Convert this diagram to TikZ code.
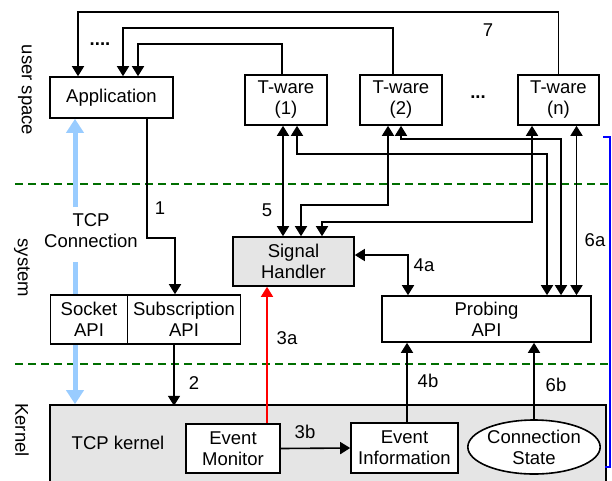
\documentclass[tikz,border=0pt]{standalone}
\usepackage{fontspec}
\setmainfont{Liberation Sans}
\usetikzlibrary{arrows.meta,shapes.geometric}
\definecolor{tcpblue}{RGB}{153,204,255}
\definecolor{dkgreen}{RGB}{0,110,0}

\begin{document}
\begin{tikzpicture}[x=1pt, y=-1pt,
        every node/.style={font=\fontsize{18.5}{21}\selectfont},
        box/.style={draw, line width=1.6pt, fill=white, align=center, inner sep=0pt},
        arr/.style={line width=1.6pt, -{Triangle[width=12pt,length=10pt]}},
        dbl/.style={line width=1.6pt, {Triangle[width=12pt,length=10pt]}-{Triangle[width=12pt,length=10pt]}},
        tcp/.style={tcpblue, line width=5pt, -{Triangle[width=17pt,length=14pt]}},
        layer/.style={dkgreen, line width=1.5pt, dash pattern=on 8pt off 5pt}]
                \clip (0,0) rectangle (612,480);
                % kernel area
                \node [box, fill=gray!20, minimum width=556pt, minimum height=85pt] (kern) at (328,447.5) {};
                \node (kerntxt) at (118,443) {TCP kernel};
                % layers
                \draw [layer] (15,184) -- (612,184);
                \draw [layer] (15,364) -- (612,364);
                \node [rotate=-90] (usr) at (25,90) {user space};
                \node [rotate=-90] (sys) at (22,268) {system};
                \node [rotate=-90] (krn) at (22,430) {Kernel};
                \draw [blue, line width=2pt] (603,137) -- (610,137) -- (610,467) -- (605,467);
                % tcp connection
                \node [align=center] (tcpc) at (91,231) {TCP\\Connection};
                \coordinate (tcptop) at (75,207);
                \coordinate (tcpbot) at (75,262);
                \node [box, minimum width=123pt, minimum height=41pt] (app) at (111.5,97.5) {Application};
                \draw [tcp] (tcptop) -- (tcptop |- app.south);
                \draw [tcp] (tcpbot) -- (tcpbot |- kern.north);
                % boxes
                \node [box, minimum width=82pt, minimum height=50pt] (tw1) at (286,100) {T-ware\\(1)};
                \node [box, minimum width=82pt, minimum height=50pt] (tw2) at (401,100) {T-ware\\(2)};
                \node [box, minimum width=81pt, minimum height=50pt] (twn) at (558.5,100) {T-ware\\(n)};
                \node (dots) at (478,97) {\textbf{...}};
                \node (dots2) at (100,44) {\textbf{....}};
                \node [box, minimum width=77pt, minimum height=49pt] (sock) at (89,319.5) {Socket\\API};
                \node [box, minimum width=113pt, minimum height=49pt] (subapi) at (184,319.5) {Subscription\\API};
                \node [box, fill=gray!20, minimum width=121pt, minimum height=49pt] (sig) at (293.5,261.5) {Signal\\Handler};
                \node [box, minimum width=209pt, minimum height=46pt] (probe) at (486.5,319) {Probing\\API};
                \node [box, minimum width=94pt, minimum height=49pt] (evmon) at (233,448.5) {Event\\Monitor};
                \node [box, minimum width=107pt, minimum height=50pt] (evinfo) at (404.5,448) {Event\\Information};
                \node [box, ellipse, minimum width=131pt, minimum height=54pt] (cstate) at (534,447) {Connection\\State};
                % feedback to application
                \draw [arr] (twn.north) -- ++(0,-62) -| ([xshift=-33.5pt]app.north);
                \draw [arr] ([xshift=-8pt]tw2.north) -- ++(0,-46) -| ([xshift=11.5pt]app.north);
                \draw [arr] ([xshift=-4pt]tw1.north) -- ++(0,-30) -| ([xshift=26.5pt]app.north);
                \node (l7) at (488,30) {7};
                % subscription
                \draw [arr] ([xshift=35.5pt]app.south) -- ++(0,119) -| ([xshift=-9pt]subapi.north);
                \node (l1) at (160,208) {1};
                \draw [arr] ([xshift=-10pt]subapi.south) -- ++(0,61);
                \node (l2) at (194,383) {2};
                % signals
                \draw [dbl] ([xshift=-3pt]tw1.south) -- ([xshift=-10.5pt]sig.north);
                \draw [dbl] ([xshift=-13pt]tw2.south) -- ++(0,79) -| ([xshift=7.5pt]sig.north);
                \draw [dbl] ([xshift=-26.5pt]twn.south) -- ++(0,96) -| ([xshift=28.5pt]sig.north);
                \node (l5) at (267,210) {5};
                % probing
                \draw [dbl] ([xshift=11pt]tw1.south) -- ++(0,28) -| ([xshift=60.5pt]probe.north);
                \draw [dbl] (tw2.south) -- ++(0,13) -| ([xshift=74.5pt]probe.north);
                \draw [dbl] ([xshift=18pt]twn.south) -- ([xshift=90pt]probe.north);
                \node (l6a) at (595,240) {6a};
                \draw [dbl] ([yshift=6.5pt]sig.east) -| ([xshift=-78.5pt]probe.north);
                \node (l4a) at (424,265) {4a};
                % kernel events
                \draw [arr, red] ([xshift=34pt]evmon.north) -- ([xshift=-26.5pt]sig.south);
                \node (l3a) at (287,338) {3a};
                \draw [arr] (evmon.east) -- (evinfo.west);
                \node (l3b) at (305,432) {3b};
                \draw [arr] ([xshift=2.5pt]evinfo.north) -- ([xshift=-79.5pt]probe.south);
                \node (l4b) at (428,381) {4b};
                \draw [arr] (cstate.north) -- (cstate.north |- probe.south);
                \node (l6b) at (556,385) {6b};
            \end{tikzpicture}
\end{document}
